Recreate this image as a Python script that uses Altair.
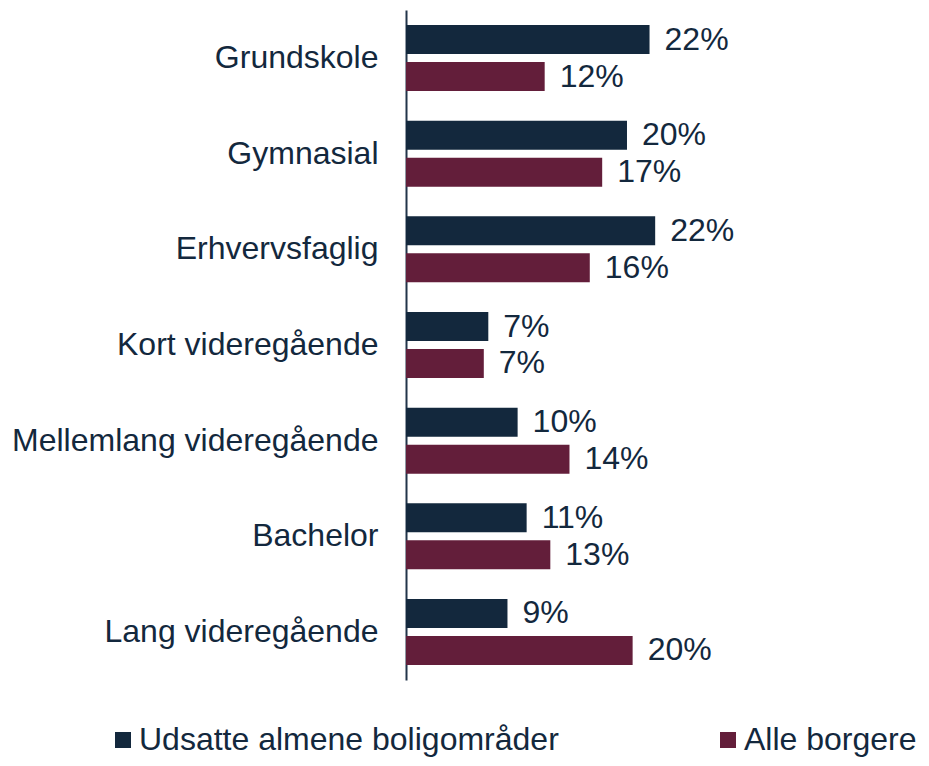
import altair as alt
import pandas as pd

categories = ["Grundskole", "Gymnasial", "Erhvervsfaglig", "Kort videregående",
              "Mellemlang videregående", "Bachelor", "Lang videregående"]
series = ["Udsatte almene boligområder", "Alle borgere"]
udsatte = [21.6, 19.6, 22.1, 7.3, 9.9, 10.7, 9.0]
alle = [12.3, 17.4, 16.3, 6.9, 14.5, 12.8, 20.1]
udsatte_labels = ["22%", "20%", "22%", "7%", "10%", "11%", "9%"]
alle_labels = ["12%", "17%", "16%", "7%", "14%", "13%", "20%"]
colors = ["#13283D", "#631E3A"]

rows = []
for c, v, l in zip(categories, udsatte, udsatte_labels):
    rows.append({"cat": c, "series": series[0], "value": v, "label": l})
for c, v, l in zip(categories, alle, alle_labels):
    rows.append({"cat": c, "series": series[1], "value": v, "label": l})
df = pd.DataFrame(rows)

FONT = "Liberation Sans"
NAVY = "#13283D"
FS = 32

y_enc = alt.Y("cat:N", sort=categories, title=None,
              scale=alt.Scale(paddingInner=0.31, paddingOuter=0.157),
              axis=alt.Axis(domain=True, domainColor="#22354A", domainWidth=2,
                            ticks=False, labelFontSize=FS, labelFont=FONT,
                            labelColor=NAVY, labelPadding=28, labelLimit=500))
yoff = alt.YOffset("series:N", sort=series,
                   scale=alt.Scale(paddingInner=0.216, paddingOuter=0))
x_enc = alt.X("value:Q", scale=alt.Scale(domain=[0, 40]), axis=None)

bars = alt.Chart(df).mark_bar().encode(
    x=x_enc, y=y_enc, yOffset=yoff,
    color=alt.Color("series:N", sort=series,
                    scale=alt.Scale(domain=series, range=colors),
                    legend=alt.Legend(title=None, orient="none", direction="horizontal",
                                      legendX=-299, legendY=714, padding=0,
                                      symbolType="square", symbolSize=256,
                                      symbolStrokeWidth=0, labelFontSize=FS,
                                      labelFont=FONT, labelColor=NAVY,
                                      labelOffset=0, columnPadding=153,
                                      labelLimit=600)),
)

text = alt.Chart(df).mark_text(align="left", baseline="middle", dx=15,
                               fontSize=FS, font=FONT, color=NAVY).encode(
    x=x_enc, y=y_enc, yOffset=yoff, text="label:N")

chart = (bars + text).properties(
    width=451, height=670,
    autosize=alt.AutoSizeParams(type="none"),
    padding={"left": 398, "top": 2, "right": 64, "bottom": 78},
).configure_view(stroke=None).configure_axis(grid=False)

chart.save("out.html", embed_options={"renderer": "svg", "actions": False})
